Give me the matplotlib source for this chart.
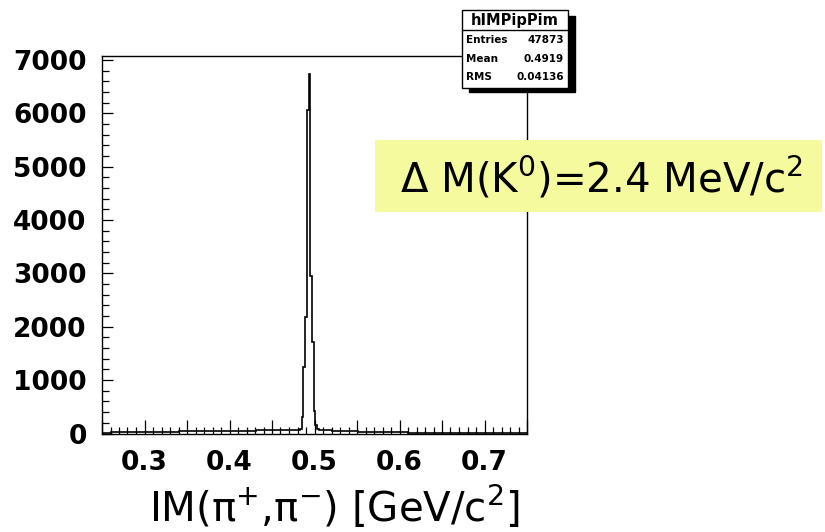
import numpy as np
import matplotlib
matplotlib.use("Agg")
from matplotlib import pyplot as plt
from matplotlib.patches import Rectangle
from matplotlib.ticker import MultipleLocator, FuncFormatter

# histogram contents (counts per 2 MeV bin)
bg_left = [15, 20, 20, 25, 25, 30, 30, 35, 35, 40, 40, 40, 45, 45, 50, 50,
           55, 55, 60, 60, 60, 65, 70]                       # 0.25 .. 0.481
peak = [60, 90, 305, 1240, 2190, 6070, 6740, 2960, 1710, 430, 150, 90,
        70, 60, 60]                                           # 0.481 .. 0.511, 2 MeV bins
bg_right = [60, 50, 45, 40, 35, 30, 28, 25, 22, 20, 18, 16, 15, 14, 12, 12,
            10, 10, 9, 8, 8, 7, 6, 6]                         # 0.511 .. 0.75

edges = np.concatenate([np.linspace(0.25, 0.481, len(bg_left) + 1)[:-1],
                        np.linspace(0.481, 0.511, len(peak) + 1)[:-1],
                        np.linspace(0.511, 0.75, len(bg_right) + 1)])
counts = np.array(bg_left + peak + bg_right, dtype=float)

stats_name = "hIMPipPim"
stats_rows = [("Entries", "47873"), ("Mean", "0.4919"), ("RMS", "0.04136")]
xticks_lab = [0.3, 0.4, 0.5, 0.6, 0.7]

W, H = 825, 532
fig = plt.figure(figsize=(W / 100, H / 100), dpi=100)
fig.patch.set_facecolor("white")

def fx(x):
    return x / W

def fy(y):
    return 1 - y / H

ax = fig.add_axes([fx(102), fy(433.5), (527 - 102) / W, (433.5 - 56) / H])
ax.stairs(counts, edges, color="black", linewidth=1.2)
ax.set_xlim(0.25, 0.75)
ax.set_ylim(0, 7075)

for s in ax.spines.values():
    s.set_linewidth(1.0)
    s.set_color("black")

ax.xaxis.set_major_locator(MultipleLocator(0.05))
ax.xaxis.set_minor_locator(MultipleLocator(0.01))
ax.xaxis.set_major_formatter(FuncFormatter(
    lambda v, p: ("%.1f" % v) if any(abs(v - t) < 1e-6 for t in xticks_lab) else ""))
ax.yaxis.set_major_locator(MultipleLocator(1000))
ax.yaxis.set_minor_locator(MultipleLocator(200))
ax.yaxis.set_major_formatter(FuncFormatter(lambda v, p: "%d" % v))

ax.tick_params(which="both", direction="in", top=False, right=False, width=0.9)
ax.tick_params(which="major", length=10)
ax.tick_params(which="minor", length=5)
ax.tick_params(axis="y", which="major", length=8, pad=11)
ax.tick_params(axis="x", which="major", pad=12)
for lab in ax.get_xticklabels() + ax.get_yticklabels():
    lab.set_fontsize(19)
    lab.set_fontweight("bold")
    lab.set_family("DejaVu Sans")

# x axis title (slide overlay)
fig.text(fx(334), fy(507), r"IM(π$^{+}$,π$^{-}$) [GeV/c$^{2}$]",
         fontsize=29, ha="center", va="center", color="black")

# stats box with shadow
fig.patches.append(Rectangle((fx(469), fy(92)), (575 - 469) / W, (92 - 16) / H,
                             transform=fig.transFigure, facecolor="black",
                             edgecolor="black", zorder=5))
fig.patches.append(Rectangle((fx(462), fy(88)), (568 - 462) / W, (88 - 10) / H,
                             transform=fig.transFigure, facecolor="white",
                             edgecolor="black", linewidth=1.0, zorder=6))
fig.lines.append(plt.Line2D([fx(462), fx(568)], [fy(30), fy(30)],
                            transform=fig.transFigure, color="black",
                            linewidth=1.0, zorder=7))
fig.text(fx(515), fy(20), stats_name, fontsize=10.5, fontweight="bold",
         ha="center", va="center", zorder=8)
for i, (k, v) in enumerate(stats_rows):
    yy = fy(40 + i * 18.5)
    fig.text(fx(466), yy, k, fontsize=7.5, fontweight="bold", ha="left",
             va="center", zorder=8)
    fig.text(fx(564), yy, v, fontsize=7.5, fontweight="bold", ha="right",
             va="center", zorder=8)

# yellow annotation
fig.patches.append(Rectangle((fx(375), fy(212)), (822 - 375) / W, (212 - 140) / H,
                             transform=fig.transFigure, facecolor="#f5fa9f",
                             edgecolor="none", zorder=5))
fig.text(fx(602), fy(178), r"Δ M(K$^{0}$)=2.4 MeV/c$^{2}$",
         fontsize=29, ha="center", va="center", color="black", zorder=8)

fig.savefig("out.png", dpi=100)
